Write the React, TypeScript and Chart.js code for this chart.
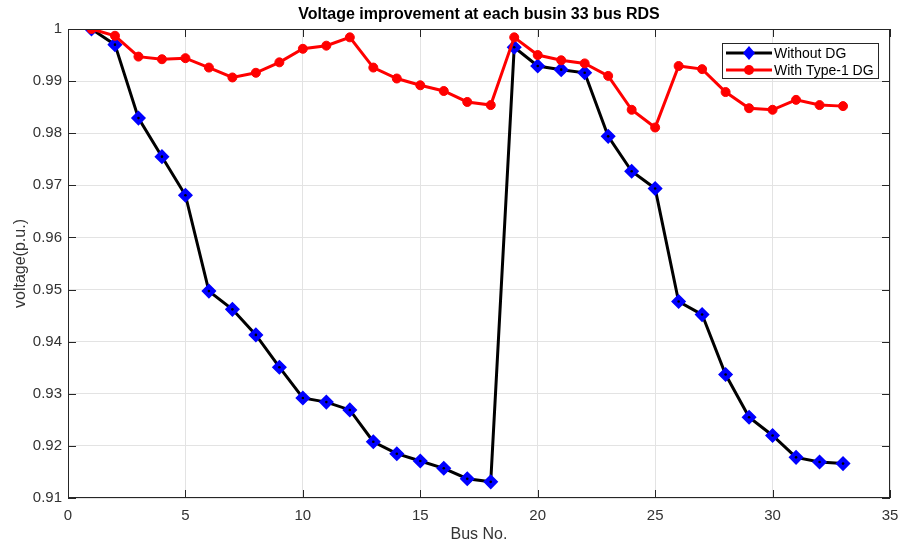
import React, { useEffect, useRef } from "react";
import { Chart, registerables } from "chart.js";

Chart.register(...registerables);

const titleText = "Voltage improvement at each busin 33 bus RDS";
const xAxisLabel = "Bus No.";
const yAxisLabel = "voltage(p.u.)";
const seriesNames = ["Without DG", "With Type-1 DG"];

const buses = [
  1, 2, 3, 4, 5, 6, 7, 8, 9, 10, 11, 12, 13, 14, 15, 16, 17, 18, 19, 20, 21,
  22, 23, 24, 25, 26, 27, 28, 29, 30, 31, 32, 33,
];

const withoutDG = [
  1.0, 0.997, 0.9829, 0.9755, 0.9681, 0.9497, 0.9462, 0.9413, 0.9351, 0.9292,
  0.9284, 0.9269, 0.9208, 0.9185, 0.9171, 0.9157, 0.9137, 0.9131, 0.9965,
  0.9929, 0.9922, 0.9916, 0.9794, 0.9727, 0.9694, 0.9477, 0.9452, 0.9337,
  0.9255, 0.922, 0.9178, 0.9169, 0.9166,
];

const withType1DG = [
  1.0, 0.9987, 0.9947, 0.9942, 0.9944, 0.9926, 0.9907, 0.9916, 0.9936, 0.9962,
  0.9968, 0.9984, 0.9926, 0.9905, 0.9892, 0.9881, 0.986, 0.9854, 0.9984,
  0.995, 0.994, 0.9934, 0.991, 0.9845, 0.9811, 0.9929, 0.9923, 0.9879,
  0.9848, 0.9845, 0.9864, 0.9854, 0.9852,
];

const xMin = 0;
const xMax = 35;
const xStep = 5;
const yMin = 0.91;
const yMax = 1.0;
const yStep = 0.01;

const FONT = "'Liberation Sans', Arial, Helvetica, sans-serif";
const AXIS_COLOR = "#262626";

const framePlugin = {
  id: "matlabFrame",
  afterDatasetsDraw(chart: any) {
    const { ctx, chartArea, scales } = chart;
    const { left, right, top, bottom } = chartArea;
    const xs = scales.x;
    const ys = scales.y;
    ctx.save();
    ctx.strokeStyle = AXIS_COLOR;
    ctx.lineWidth = 1;
    ctx.strokeRect(left + 0.5, top + 0.5, right - left - 1, bottom - top - 1);
    const tl = 8;
    ctx.beginPath();
    xs.ticks.forEach((t: any) => {
      const px = Math.round(xs.getPixelForValue(t.value)) + 0.5;
      ctx.moveTo(px, bottom);
      ctx.lineTo(px, bottom - tl);
      ctx.moveTo(px, top);
      ctx.lineTo(px, top + tl);
    });
    ys.ticks.forEach((t: any) => {
      const py = Math.round(ys.getPixelForValue(t.value)) + 0.5;
      ctx.moveTo(left, py);
      ctx.lineTo(left + tl, py);
      ctx.moveTo(right, py);
      ctx.lineTo(right - tl, py);
    });
    ctx.stroke();
    ctx.restore();
  },
  afterDraw(chart: any) {
    const { ctx, chartArea } = chart;
    const { left, right } = chartArea;
    ctx.save();
    // Title
    ctx.fillStyle = "#000";
    ctx.font = `bold 16px ${FONT}`;
    ctx.textAlign = "center";
    ctx.textBaseline = "middle";
    ctx.fillText(titleText, (left + right) / 2, 15);

    // Legend
    const bx = 722;
    const by = 43;
    const bw = 156;
    const bh = 35;
    ctx.fillStyle = "#fff";
    ctx.fillRect(bx, by, bw, bh);
    ctx.strokeStyle = AXIS_COLOR;
    ctx.lineWidth = 1;
    ctx.strokeRect(bx + 0.5, by + 0.5, bw, bh);

    const rows = [
      { y: 53, color: "#000", marker: "diamond", label: seriesNames[0] },
      { y: 70, color: "#ff0000", marker: "circle", label: seriesNames[1] },
    ];
    rows.forEach((r) => {
      ctx.strokeStyle = r.color;
      ctx.lineWidth = 3;
      ctx.beginPath();
      ctx.moveTo(726, r.y);
      ctx.lineTo(772, r.y);
      ctx.stroke();
      const cx = 749;
      if (r.marker === "diamond") {
        ctx.fillStyle = "#0000ff";
        ctx.beginPath();
        ctx.moveTo(cx, r.y - 7);
        ctx.lineTo(cx + 6, r.y);
        ctx.lineTo(cx, r.y + 7);
        ctx.lineTo(cx - 6, r.y);
        ctx.closePath();
        ctx.fill();
      } else {
        ctx.fillStyle = "#ff0000";
        ctx.beginPath();
        ctx.arc(cx, r.y, 5, 0, Math.PI * 2);
        ctx.fill();
      }
      ctx.fillStyle = "#000";
      ctx.font = `14px ${FONT}`;
      ctx.textAlign = "left";
      ctx.textBaseline = "middle";
      ctx.fillText(r.label, 774, r.y + 1);
    });
    ctx.restore();
  },
};

export default function App() {
  const canvasRef = useRef<HTMLCanvasElement | null>(null);

  useEffect(() => {
    if (!canvasRef.current) return;
    const withoutPts = buses.map((b, i) => ({ x: b, y: withoutDG[i] }));
    const withPts = buses.map((b, i) => ({ x: b, y: withType1DG[i] }));

    const chart = new Chart(canvasRef.current, {
      type: "line",
      data: {
        datasets: [
          {
            label: seriesNames[1],
            data: withPts,
            borderColor: "#ff0000",
            backgroundColor: "#ff0000",
            borderWidth: 3,
            pointStyle: "circle",
            pointRadius: 4.5,
            pointBorderWidth: 1,
            pointBackgroundColor: "#ff0000",
            pointBorderColor: "#ff0000",
            tension: 0,
            order: 0,
          },
          {
            label: seriesNames[0] + " centre",
            data: withoutPts,
            showLine: false,
            pointStyle: "circle",
            pointRadius: 1.3,
            pointBorderWidth: 0,
            pointBackgroundColor: "#000",
            pointBorderColor: "#000",
            order: 1,
          },
          {
            label: seriesNames[0],
            data: withoutPts,
            borderColor: "#000",
            backgroundColor: "#0000ff",
            borderWidth: 3,
            pointStyle: "rectRot",
            pointRadius: 6.5,
            pointBorderWidth: 1.5,
            pointBackgroundColor: "#0000ff",
            pointBorderColor: "#0000ff",
            tension: 0,
            order: 2,
          },
        ],
      },
      options: {
        responsive: false,
        animation: false,
        events: [],
        layout: { padding: { top: 29, right: 11, left: 0, bottom: 0 } },
        plugins: {
          legend: { display: false },
          tooltip: { enabled: false },
          title: { display: false },
        },
        scales: {
          x: {
            type: "linear",
            min: xMin,
            max: xMax,
            afterFit: (s: any) => {
              s.height = 47;
              s.paddingLeft = 0;
              s.paddingRight = 0;
            },
            ticks: {
              stepSize: xStep,
              padding: 9,
              color: "#333",
              font: { family: FONT, size: 15 },
              maxRotation: 0,
              callback: (v: any) => String(v),
            },
            grid: {
              color: "#e3e3e3",
              lineWidth: 1,
              drawTicks: false,
            },
            border: { display: false },
            title: {
              display: true,
              text: xAxisLabel,
              color: "#333",
              font: { family: FONT, size: 16 },
              padding: { top: 0, bottom: 1 },
            },
          },
          y: {
            type: "linear",
            min: yMin,
            max: yMax,
            afterFit: (s: any) => {
              s.width = 68;
              s.paddingTop = 0;
              s.paddingBottom = 0;
            },
            ticks: {
              stepSize: yStep,
              padding: 6,
              color: "#333",
              font: { family: FONT, size: 15 },
              callback: (v: any) => String(Number(Number(v).toFixed(2))),
            },
            grid: {
              color: "#e3e3e3",
              lineWidth: 1,
              drawTicks: false,
            },
            border: { display: false },
            title: {
              display: true,
              text: yAxisLabel,
              color: "#333",
              font: { family: FONT, size: 16 },
              padding: { top: 11, bottom: 0 },
            },
          },
        },
      },
      plugins: [framePlugin],
    });
    return () => chart.destroy();
  }, []);

  return (
    <div
      style={{
        position: "fixed",
        left: 0,
        top: 0,
        width: 901,
        height: 545,
        background: "#fff",
      }}
    >
      <canvas ref={canvasRef} width={901} height={545} />
    </div>
  );
}
